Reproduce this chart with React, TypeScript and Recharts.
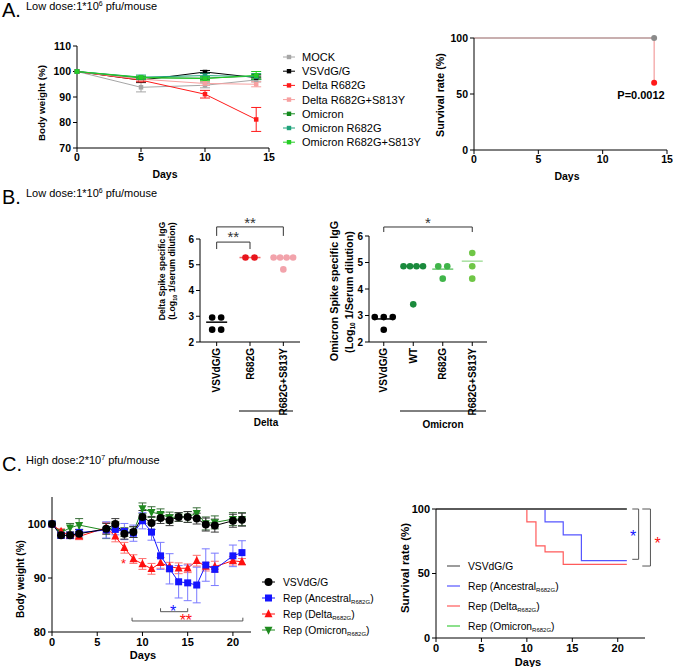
import React from "react";
import {
  LineChart,
  Line,
  XAxis,
  YAxis,
  ErrorBar,
  ScatterChart,
  Scatter,
  ReferenceLine,
  ReferenceDot,
} from "recharts";

const FONT = "'Liberation Sans', Arial, Helvetica, sans-serif";

// A. low dose, body weight (mean ± SEM)
const lowDays = [0, 5, 10, 14];
const mockWt = [100, 93.8, 94.6, 96.7];
const mockErr = [0, 1.8, 1.0, 0.8];
const vsvWt = [100, 96.6, 99.8, 97.6];
const vsvErr = [0, 0.8, 0.6, 0.6];
const deltaWt = [100, 96.6, 91.1, 81.2];
const deltaErr = [0, 0.6, 1.5, 4.7];
const deltaSWt = [100, 97.0, 95.3, 95.0];
const deltaSErr = [0, 0.6, 0.8, 1.0];
const omiWt = [100, 97.5, 97.4, 98.2];
const omiErr = [0, 0.5, 0.5, 0.6];
const omiRWt = [100, 97.8, 98.4, 98.0];
const omiRErr = [0, 0.8, 0.9, 1.2];
const omiRSWt = [100, 97.7, 97.2, 98.5];
const omiRSErr = [0, 0.5, 0.8, 1.5];

// A. low dose, survival
const lowSurvDays = [0, 14];
const lowSurvOthers = [100, 100];
const lowSurvDelta = [100, 60];

// B. spike specific IgG (log10 1/serum dilution)
const deltaCats = ["VSVdG/G", "R682G", "R682G+S813Y"];
const deltaIgVsv = [2.95, 2.95, 2.48, 2.48];
const deltaIgR682G = [5.28, 5.28];
const deltaIgS813Y = [5.28, 5.28, 5.28, 5.28, 4.82];
const deltaCenters = [2.77, 5.28, 5.26];

const omiCats = ["VSVdG/G", "WT", "R682G", "R682G+S813Y"];
const omiIgVsv = [2.94, 2.94, 2.94, 2.46];
const omiIgWT = [4.86, 4.86, 4.86, 4.86, 3.42];
const omiIgR682G = [4.86, 4.86, 4.39];
const omiIgS813Y = [5.36, 4.86, 4.39];
const omiCenters = [2.87, 4.86, 4.75, 5.05];

// C. high dose, body weight
const highDays = [0, 1, 2, 3, 6, 7, 8, 9, 10, 11, 12, 13, 14, 15, 16, 17, 18, 20, 21];
const highVsv = [100, 97.9, 97.9, 98.2, 99.1, 100, 98.2, 98.5, 101.3, 100.2, 101.1, 100.7, 101.3, 101.3, 101.0, 99.9, 99.7, 100.6, 100.8];
const highVsvErr = [0, 0.5, 0.6, 0.8, 1.0, 1.0, 1.0, 1.0, 1.2, 1.2, 1.0, 1.0, 0.8, 1.0, 1.0, 1.2, 1.2, 1.2, 1.2];
const highAnc = [100, 97.9, 97.9, 98.4, 98.9, 99.0, 98.6, 98.3, 100.6, 98.5, 94.1, 91.7, 89.3, 89.1, 88.7, 92.4, 91.6, 94.1, 94.7];
const highAncErr = [0, 0.5, 0.6, 0.6, 1.5, 1.0, 1.5, 1.5, 1.5, 1.5, 2.5, 2.8, 3.0, 3.3, 3.3, 3.0, 3.0, 2.0, 2.2];
const highDelta = [100, 98.6, 97.9, 97.7, 99.3, 97.7, 95.6, 93.5, 92.6, 91.7, 92.8, 92.1, 91.8, 91.8, 93.2, 92.1, 92.1, 93.2, 93.0];
const highDeltaErr = [0, 0.5, 0.5, 0.6, 1.0, 1.0, 1.0, 0.8, 1.0, 1.0, 1.0, 0.8, 1.0, 0.8, 1.0, 0.8, 1.0, 0.8, 0.6];
const highOmi = [100, 98.4, 99.3, 99.8, 98.8, 99.6, 98.5, 98.5, 102.9, 102.2, 101.8, 101.2, 101.3, 101.3, 102.0, 100.1, 100.3, 100.9, 100.9];
const highOmiErr = [0, 0.6, 0.8, 1.2, 1.5, 0.8, 0.8, 1.0, 1.0, 1.0, 1.0, 1.0, 0.8, 1.0, 1.0, 1.2, 1.2, 1.2, 1.2];

// C. high dose, survival (Kaplan-Meier steps)
const survVsvDays = [0, 21];
const survVsv = [100, 100];
const survAncDays = [0, 12, 14, 16, 21];
const survAnc = [100, 90, 80, 60, 60];
const survDeltaDays = [0, 10, 11, 12, 14, 21];
const survDelta = [100, 90, 71.4, 66.7, 57.1, 57.1];
const survOmiDays = [0, 21];
const survOmi = [100, 100];

// ---------- helpers ----------
type Box = { x0: number; y0: number; x1: number; y1: number; yw: number; xh: number; t: number; r: number };

const frame = (b: Box) => ({
  pos: { position: "absolute" as const, left: b.x0 - b.yw, top: b.y0 - b.t },
  width: b.x1 - b.x0 + b.yw + b.r,
  height: b.y1 - b.y0 + b.t + b.xh,
  margin: { top: b.t, right: b.r, bottom: 0, left: 0 },
});

const axis = (size: number) => ({
  stroke: "#000",
  axisLine: { stroke: "#000" },
  tickLine: { stroke: "#000" },
  tickSize: 4,
  interval: 0 as const,
  tick: { fill: "#000", fontSize: size, fontWeight: 700, fontFamily: FONT },
});

const square = (color: string, s: number) => (p: any) => (
  <rect key={`sq${p.index}`} x={p.cx - s / 2} y={p.cy - s / 2} width={s} height={s} fill={color} />
);
const circle = (color: string, r: number) => (p: any) => (
  <circle key={`ci${p.index}`} cx={p.cx} cy={p.cy} r={r} fill={color} />
);
const triUp = (color: string, s: number) => (p: any) => (
  <polygon
    key={`tu${p.index}`}
    points={`${p.cx},${p.cy - s * 0.6} ${p.cx - s / 2},${p.cy + s * 0.4} ${p.cx + s / 2},${p.cy + s * 0.4}`}
    fill={color}
  />
);
const triDown = (color: string, s: number) => (p: any) => (
  <polygon
    key={`td${p.index}`}
    points={`${p.cx},${p.cy + s * 0.6} ${p.cx - s / 2},${p.cy - s * 0.4} ${p.cx + s / 2},${p.cy - s * 0.4}`}
    fill={color}
  />
);

const starText = (text: string, color: string, size: number) => (p: any) => (
  <text x={p.cx} y={p.cy} dy={size * 0.55} textAnchor="middle" fontSize={size} fill={color} fontFamily={FONT}>
    {text}
  </text>
);

// polyline annotation drawn as reference segments in data space
const bracket = (id: string, pts: [number, number][], color: string) =>
  pts.slice(1).map((pt, i) => (
    <ReferenceLine
      key={`${id}${i}`}
      segment={[
        { x: pts[i][0], y: pts[i][1] },
        { x: pt[0], y: pt[1] },
      ]}
      stroke={color}
      strokeWidth={1}
      ifOverflow="visible"
    />
  ));

const rotTick = (names: string[], size: number) => (p: any) => (
  <text
    x={p.x}
    y={p.y}
    dy="0.35em"
    textAnchor="end"
    transform={`rotate(-90 ${p.x} ${p.y})`}
    fontSize={size}
    fontWeight={700}
    fontFamily={FONT}
    fill="#000"
  >
    {names[p.payload.value]}
  </text>
);

// spread equal values sideways like a dot plot
const dotsFor = (values: number[], idx: number, unitPx: number) => {
  const counts = new Map<number, number>();
  values.forEach((v) => counts.set(v, (counts.get(v) ?? 0) + 1));
  const seen = new Map<number, number>();
  return values.map((v) => {
    const n = counts.get(v)!;
    const k = seen.get(v) ?? 0;
    seen.set(v, k + 1);
    const gap = n >= 4 ? 6.5 : 9;
    return { x: idx + ((k - (n - 1) / 2) * gap) / unitPx, y: v };
  });
};

const lastDot = (color: string, data: any[]) => (p: any) =>
  p.index === data.length - 1 ? (
    <circle key={`ld${p.index}`} cx={p.cx} cy={p.cy} r={3} fill={color} />
  ) : (
    <g key={`ld${p.index}`} />
  );

// ---------- A ----------
const lowGroups = [
  { key: "mock", name: "MOCK", color: "#a6a6a6", wt: mockWt, err: mockErr },
  { key: "vsv", name: "VSVdG/G", color: "#000000", wt: vsvWt, err: vsvErr },
  { key: "delta", name: "Delta R682G", color: "#ff1a1a", wt: deltaWt, err: deltaErr },
  { key: "deltaS", name: "Delta R682G+S813Y", color: "#f7a0a0", wt: deltaSWt, err: deltaSErr },
  { key: "omi", name: "Omicron", color: "#148a1e", wt: omiWt, err: omiErr },
  { key: "omiR", name: "Omicron R682G", color: "#1fa27a", wt: omiRWt, err: omiRErr },
  { key: "omiRS", name: "Omicron R682G+S813Y", color: "#26cc26", wt: omiRSWt, err: omiRSErr },
];
const lowRows = lowDays.map((d, i) => {
  const row: Record<string, number> = { day: d };
  lowGroups.forEach((g) => {
    row[g.key] = g.wt[i];
    row[`${g.key}Err`] = g.err[i];
  });
  return row;
});

const boxALeft: Box = { x0: 77, y0: 46, x1: 269, y1: 148, yw: 35, xh: 22, t: 8, r: 12 };
const boxARight: Box = { x0: 474, y0: 38, x1: 667, y1: 150, yw: 30, xh: 22, t: 8, r: 6 };

function LowWeight() {
  const f = frame(boxALeft);
  return (
    <div style={f.pos}>
      <LineChart width={f.width} height={f.height} margin={f.margin} data={lowRows}>
        <XAxis {...axis(10.5)} type="number" dataKey="day" domain={[0, 15]} ticks={[0, 5, 10, 15]} height={boxALeft.xh} />
        <YAxis {...axis(10.5)} type="number" domain={[70, 110]} ticks={[70, 80, 90, 100, 110]} width={boxALeft.yw} />
        {lowGroups.map((g) => (
          <Line
            key={g.key}
            dataKey={g.key}
            stroke={g.color}
            strokeWidth={1}
            dot={square(g.color, 4.5)}
            activeDot={false}
            isAnimationActive={false}
          >
            <ErrorBar dataKey={`${g.key}Err`} width={5} stroke={g.color} strokeWidth={1} />
          </Line>
        ))}
      </LineChart>
    </div>
  );
}

function LowSurvival() {
  const f = frame(boxARight);
  const others = lowSurvDays.map((d, i) => ({ day: d, others: lowSurvOthers[i] }));
  const delta = lowSurvDays.map((d, i) => ({ day: d, delta: lowSurvDelta[i] }));
  return (
    <div style={f.pos}>
      <LineChart width={f.width} height={f.height} margin={f.margin}>
        <XAxis {...axis(10.5)} type="number" dataKey="day" domain={[0, 15]} ticks={[0, 5, 10, 15]} height={boxARight.xh} />
        <YAxis {...axis(10.5)} type="number" domain={[0, 100]} ticks={[0, 50, 100]} width={boxARight.yw} />
        <Line data={delta} dataKey="delta" type="stepAfter" stroke="#f08a8a" strokeWidth={1} dot={lastDot("#ff1a1a", delta)} activeDot={false} isAnimationActive={false} />
        <Line data={others} dataKey="others" type="stepAfter" stroke="#9a9a9a" strokeWidth={1.2} dot={lastDot("#8a8a8a", others)} activeDot={false} isAnimationActive={false} />
      </LineChart>
    </div>
  );
}

// ---------- B ----------
const boxBLeft: Box = { x0: 200, y0: 239, x1: 300, y1: 342, yw: 22, xh: 85, t: 45, r: 8 };
const boxBRight: Box = { x0: 369, y0: 236, x1: 487, y1: 342, yw: 22, xh: 85, t: 45, r: 8 };

const deltaGroups = [
  { values: deltaIgVsv, dot: "#000000", line: "#000000" },
  { values: deltaIgR682G, dot: "#e8141c", line: "#f06a6a" },
  { values: deltaIgS813Y, dot: "#f2a3ab", line: "#f5b3b9" },
];
const omiGroups = [
  { values: omiIgVsv, dot: "#000000", line: "#000000" },
  { values: omiIgWT, dot: "#1a8a3c", line: "#1a8a3c" },
  { values: omiIgR682G, dot: "#40b54a", line: "#6cc870" },
  { values: omiIgS813Y, dot: "#6fc646", line: "#a8e0a0" },
];

function DotPlot({
  b,
  cats,
  groups,
  centers,
  extras,
}: {
  b: Box;
  cats: string[];
  groups: { values: number[]; dot: string; line: string }[];
  centers: number[];
  extras: React.ReactNode;
}) {
  const f = frame(b);
  const unitPx = (b.x1 - b.x0) / cats.length;
  const hw = 10.5 / unitPx;
  return (
    <div style={f.pos}>
      <ScatterChart width={f.width} height={f.height} margin={f.margin}>
        <XAxis
          {...axis(10)}
          type="number"
          dataKey="x"
          domain={[-0.5, cats.length - 0.5]}
          ticks={cats.map((_, i) => i)}
          tick={rotTick(cats, 10)}
          height={b.xh}
        />
        <YAxis {...axis(10)} type="number" dataKey="y" domain={[2, 6]} ticks={[2, 3, 4, 5, 6]} width={b.yw} />
        {groups.map((g, i) => (
          <Scatter
            key={`g${i}`}
            data={dotsFor(g.values, i, unitPx)}
            fill={g.dot}
            shape={circle(g.dot, 3.3)}
            isAnimationActive={false}
          />
        ))}
        {centers.map((m, i) => (
          <ReferenceLine
            key={`m${i}`}
            segment={[
              { x: i - hw, y: m },
              { x: i + hw, y: m },
            ]}
            stroke={groups[i].line}
            strokeWidth={1.5}
            ifOverflow="visible"
          />
        ))}
        {extras}
      </ScatterChart>
    </div>
  );
}

// ---------- C ----------
const highGroups = [
  { key: "omi", main: "Rep (Omicron", color: "#1e8a1e", err: "#3a6e3a", wt: highOmi, e: highOmiErr, shape: triDown },
  { key: "delta", main: "Rep (Delta", color: "#ff1010", err: "#ff7070", wt: highDelta, e: highDeltaErr, shape: triUp },
  { key: "anc", main: "Rep (Ancestral", color: "#1414ff", err: "#7a7aff", wt: highAnc, e: highAncErr, shape: square },
  { key: "vsv", main: "VSVdG/G", color: "#000000", err: "#3a3a3a", wt: highVsv, e: highVsvErr, shape: circle },
];
const shapeSize: Record<string, number> = { omi: 8, delta: 8, anc: 7, vsv: 4 };
const highRows = highDays.map((d, i) => {
  const row: Record<string, number> = { day: d };
  highGroups.forEach((g) => {
    row[g.key] = g.wt[i];
    row[`${g.key}Err`] = g.e[i];
  });
  return row;
});

const boxCLeft: Box = { x0: 52, y0: 497, x1: 251, y1: 632, yw: 30, xh: 22, t: 8, r: 8 };
const boxCRight: Box = { x0: 436, y0: 509, x1: 645, y1: 638, yw: 30, xh: 22, t: 8, r: 28 };

function HighWeight() {
  const f = frame(boxCLeft);
  return (
    <div style={f.pos}>
      <LineChart width={f.width} height={f.height} margin={f.margin} data={highRows}>
        <XAxis {...axis(11)} type="number" dataKey="day" domain={[0, 22]} ticks={[0, 5, 10, 15, 20]} height={boxCLeft.xh} />
        <YAxis {...axis(11)} type="number" domain={[80, 105]} ticks={[80, 90, 100]} width={boxCLeft.yw} />
        {highGroups.map((g) => (
          <Line
            key={g.key}
            dataKey={g.key}
            stroke={g.color}
            strokeWidth={1}
            dot={g.shape(g.color, shapeSize[g.key])}
            activeDot={false}
            isAnimationActive={false}
          >
            <ErrorBar dataKey={`${g.key}Err`} width={4} stroke={g.err} strokeWidth={1} />
          </Line>
        ))}
        {bracket("cb", [[12, 84.4], [12, 83.76], [15, 83.76], [15, 84.4]], "#555")}
        {bracket("cr", [[8.85, 82.65], [8.85, 82.04], [21.1, 82.04], [21.1, 82.65]], "#555")}
        <ReferenceDot x={13.4} y={84.5} r={0} ifOverflow="visible" shape={starText("*", "#1414ff", 16)} />
        <ReferenceDot x={14.8} y={82.75} r={0} ifOverflow="visible" shape={starText("**", "#ff1010", 16)} />
        <ReferenceDot x={7.9} y={93.1} r={0} ifOverflow="visible" shape={starText("*", "#ff1010", 13)} />
      </LineChart>
    </div>
  );
}

// paint order: the control curve goes last so it sits on top at 100 %
const survGroups = [
  { key: "survOmi", legend: "omi", color: "#3fcc3f", width: 0.8, days: survOmiDays, v: survOmi },
  { key: "survDelta", legend: "delta", color: "#ff5a5a", width: 1.2, days: survDeltaDays, v: survDelta },
  { key: "survAnc", legend: "anc", color: "#5555ff", width: 1.2, days: survAncDays, v: survAnc },
  { key: "survVsv", legend: "vsv", color: "#5a5a5a", width: 1.8, days: survVsvDays, v: survVsv },
];
const survLegendOrder = ["vsv", "anc", "delta", "omi"];

// one table over all event days; a group only has a value on its own event days
const survRows = Array.from(new Set(survGroups.flatMap((g) => g.days)))
  .sort((a, b) => a - b)
  .map((d) => {
    const row: Record<string, number> = { day: d };
    survGroups.forEach((g) => {
      const i = g.days.indexOf(d);
      if (i >= 0) row[g.key] = g.v[i];
    });
    return row;
  });

function HighSurvival() {
  const f = frame(boxCRight);
  return (
    <div style={f.pos}>
      <LineChart width={f.width} height={f.height} margin={f.margin} data={survRows}>
        <XAxis {...axis(11)} type="number" dataKey="day" domain={[0, 23]} ticks={[0, 5, 10, 15, 20]} height={boxCRight.xh} />
        <YAxis {...axis(11)} type="number" domain={[0, 100]} ticks={[0, 50, 100]} width={boxCRight.yw} />
        {survGroups.map((g) => (
          <Line
            key={g.key}
            id={g.key}
            dataKey={g.key}
            type="stepAfter"
            connectNulls
            stroke={g.color}
            strokeWidth={g.width}
            dot={false}
            activeDot={false}
            isAnimationActive={false}
          />
        ))}
        {bracket("sb", [[21.6, 100], [22.3, 100], [22.3, 61], [21.6, 61]], "#555")}
        {bracket("sr", [[22.7, 100], [23.6, 100], [23.6, 55.8], [22.7, 55.8]], "#555")}
        <ReferenceDot x={21.7} y={81.4} r={0} ifOverflow="visible" shape={starText("*", "#1414ff", 16)} />
        <ReferenceDot x={24.4} y={76} r={0} ifOverflow="visible" shape={starText("*", "#ff1010", 16)} />
      </LineChart>
    </div>
  );
}

// ---------- text layer ----------
const vText = (cx: number, cy: number, size: number, content: React.ReactNode, key: string) => (
  <text
    key={key}
    x={cx}
    y={cy}
    dy="0.35em"
    textAnchor="middle"
    transform={`rotate(-90 ${cx} ${cy})`}
    fontSize={size}
    fontWeight={700}
  >
    {content}
  </text>
);

function Heading({ y, letter, text, exp }: { y: number; letter: string; text: string; exp: string }) {
  return (
    <g>
      <text x={2} y={y} fontSize={20}>
        {letter}
      </text>
      <text x={26} y={y - 7.5} fontSize={11}>
        {text}
        <tspan dy={-4} fontSize={7}>
          {exp}
        </tspan>
        <tspan dy={4}> pfu/mouse</tspan>
      </text>
    </g>
  );
}

const subLabel = (main: string, withSub: boolean) => (
  <>
    {main}
    {withSub && (
      <>
        <tspan dy={2.5} fontSize={6}>
          R682G
        </tspan>
        <tspan dy={-2.5}>)</tspan>
      </>
    )}
  </>
);

function Overlay() {
  return (
    <svg
      width={673}
      height={667}
      style={{ position: "absolute", left: 0, top: 0, pointerEvents: "none" }}
      fontFamily={FONT}
      fill="#000"
    >
      <Heading y={17} letter="A." text="Low dose:1*10" exp="6" />
      <Heading y={204} letter="B." text="Low dose:1*10" exp="6" />
      <Heading y={471} letter="C." text="High dose:2*10" exp="7" />

      {/* A */}
      {vText(42, 103, 9.8, "Body weight (%)", "a1")}
      <text x={165} y={178} fontSize={10.5} fontWeight={700} textAnchor="middle">
        Days
      </text>
      {lowGroups.map((g, i) => {
        const y = 57 + i * 14.2;
        return (
          <g key={g.key}>
            <line x1={283} x2={295} y1={y} y2={y} stroke={g.color} strokeWidth={1} />
            <rect x={286.8} y={y - 2.2} width={4.4} height={4.4} fill={g.color} />
            <text x={302} y={y + 3.9} fontSize={11}>
              {g.name}
            </text>
          </g>
        );
      })}
      {vText(440, 95, 10.7, "Survival rate (%)", "a2")}
      <text x={567} y={180} fontSize={10.5} fontWeight={700} textAnchor="middle">
        Days
      </text>
      <text x={641} y={99} fontSize={11} fontWeight={700} textAnchor="middle">
        P=0.0012
      </text>

      {/* B */}
      {vText(162, 271, 8.7, "Delta Spike specific IgG", "b1")}
      {vText(
        172,
        271,
        8.7,
        <>
          (Log
          <tspan dy={2} fontSize={5.5}>
            10
          </tspan>
          <tspan dy={-2}> 1/serum dilution)</tspan>
        </>,
        "b2"
      )}
      {vText(334, 291, 10.8, "Omicron Spike specific IgG", "b3")}
      {vText(
        349,
        292,
        10.8,
        <>
          (Log
          <tspan dy={2.5} fontSize={6.5}>
            10
          </tspan>
          <tspan dy={-2.5}> 1/Serum dilution)</tspan>
        </>,
        "b4"
      )}
      <line x1={239} x2={293} y1={411} y2={411} stroke="#000" strokeWidth={1} />
      <text x={266} y={426} fontSize={10} fontWeight={700} textAnchor="middle">
        Delta
      </text>
      <line x1={400} x2={486} y1={411} y2={411} stroke="#000" strokeWidth={1} />
      <text x={443} y={428} fontSize={10} fontWeight={700} textAnchor="middle">
        Omicron
      </text>

      {/* C */}
      {vText(20, 579, 10, "Body weight (%)", "c1")}
      <text x={143} y={659} fontSize={11} fontWeight={700} textAnchor="middle">
        Days
      </text>
      {[...highGroups].reverse().map((g, i) => {
        const y = 582 + i * 16;
        const mark = g.shape(g.color, shapeSize[g.key])({ cx: 268.5, cy: y, index: i });
        return (
          <g key={g.key}>
            <line x1={262} x2={275} y1={y} y2={y} stroke={g.color} strokeWidth={1} />
            {mark}
            <text x={283} y={y + 3.7} fontSize={10.3}>
              {subLabel(g.main, g.key !== "vsv")}
            </text>
          </g>
        );
      })}

      {vText(405, 568, 11.5, "Survival rate (%)", "c2")}
      <text x={528} y={666} fontSize={11} fontWeight={700} textAnchor="middle">
        Days
      </text>
      {survLegendOrder.map((k, i) => {
        const y = 566 + i * 20;
        const g = survGroups.find((s) => s.legend === k)!;
        const label = highGroups.find((h) => h.key === k)!;
        return (
          <g key={`s${k}`}>
            <line x1={447} x2={460} y1={y} y2={y} stroke={g.color} strokeWidth={1.2} />
            <text x={468} y={y + 3.7} fontSize={10.3}>
              {subLabel(label.main, k !== "vsv")}
            </text>
          </g>
        );
      })}
    </svg>
  );
}

export default function App() {
  return (
    <div
      style={{
        position: "absolute",
        left: 0,
        top: 0,
        width: 673,
        height: 667,
        background: "#fff",
        fontFamily: FONT,
        overflow: "hidden",
      }}
    >
      <LowWeight />
      <LowSurvival />
      <DotPlot
        b={boxBLeft}
        cats={deltaCats}
        groups={deltaGroups}
        centers={deltaCenters}
        extras={[
          ...bracket("d1", [[0, 5.61], [0, 5.88], [1, 5.88], [1, 5.61]], "#333"),
          ...bracket("d2", [[0, 6.12], [0, 6.47], [2, 6.47], [2, 6.12]], "#333"),
          <ReferenceDot key="ds1" x={0.5} y={6.19} r={0} ifOverflow="visible" shape={starText("**", "#333", 15)} />,
          <ReferenceDot key="ds2" x={1} y={6.74} r={0} ifOverflow="visible" shape={starText("**", "#333", 15)} />,
        ]}
      />
      <DotPlot
        b={boxBRight}
        cats={omiCats}
        groups={omiGroups}
        centers={omiCenters}
        extras={[
          ...bracket("o1", [[0, 6.15], [0, 6.34], [3, 6.34], [3, 6.15]], "#333"),
          <ReferenceDot key="os1" x={1.5} y={6.6} r={0} ifOverflow="visible" shape={starText("*", "#333", 15)} />,
        ]}
      />
      <HighWeight />
      <HighSurvival />
      <Overlay />
    </div>
  );
}
